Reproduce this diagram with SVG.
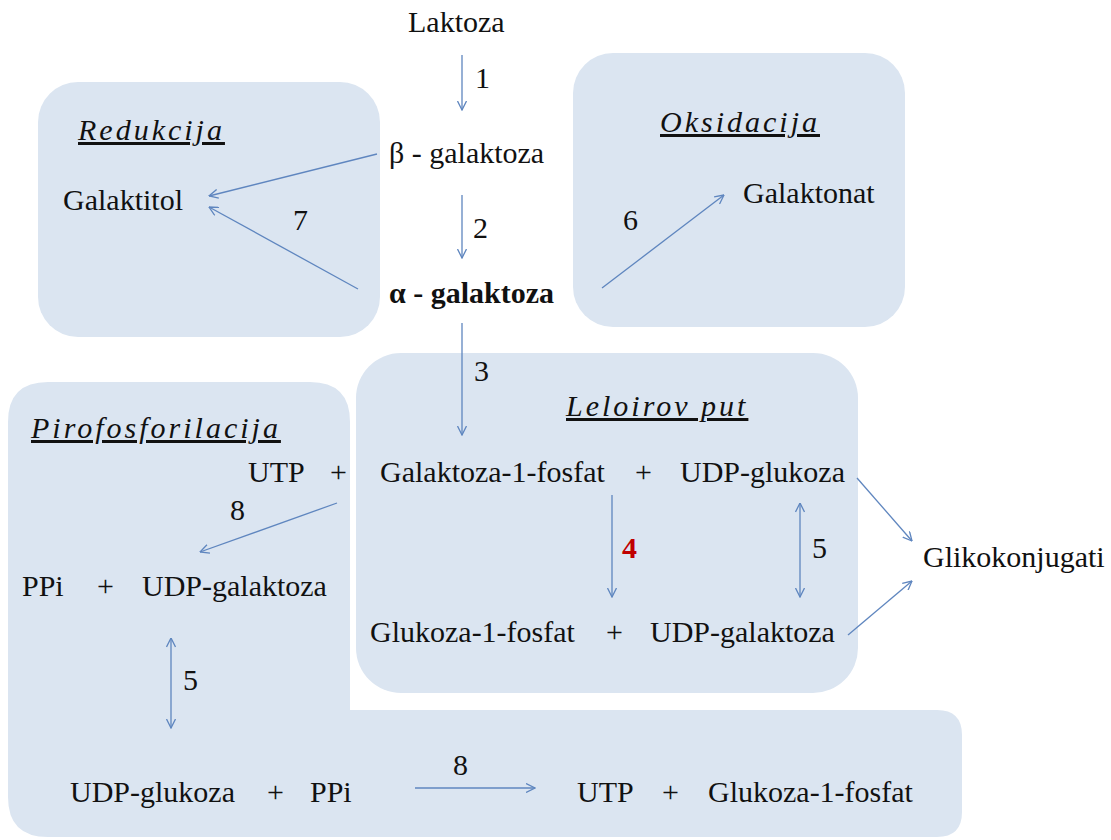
<svg xmlns="http://www.w3.org/2000/svg" width="1111" height="840" viewBox="0 0 1111 840">
<defs>
<marker id="ah" viewBox="0 0 10 10" refX="9.5" refY="5" markerWidth="10" markerHeight="10" markerUnits="userSpaceOnUse" orient="auto-start-reverse">
<path d="M0.5,0.5 L9.5,5 L0.5,9.5" fill="none" stroke="#5f86bf" stroke-width="1.3"/>
</marker>
<style>
.box{fill:#dbe5f1;stroke:none}
text{font-family:'Liberation Serif','Times New Roman',Times,'DejaVu Serif',serif;font-size:30px;fill:#111}
.h{font-style:italic;letter-spacing:3px;text-decoration:underline}
.b{font-weight:bold}
.red{fill:#c00000;font-weight:bold}
.c{fill:none;stroke:#5f86bf;stroke-width:1.3}
.one{marker-end:url(#ah)}
.two{marker-start:url(#ah);marker-end:url(#ah)}
</style>
</defs>
<g font-family="Liberation Serif, Times New Roman, serif">
<g id="reduction">
<rect class="box" x="38" y="82" width="342" height="255" rx="40"/>
<text class="h" x="78" y="140">Redukcija</text>
<text x="63" y="210">Galaktitol</text>
</g>
<g id="oxidation">
<rect class="box" x="573" y="53" width="332" height="274" rx="40"/>
<text class="h" x="660" y="132">Oksidacija</text>
<text x="743" y="203">Galaktonat</text>
</g>
<g id="pyrophosphorylation">
<path class="box" d="M48,382 H310 Q350,382 350,422 V710 H937 Q962,710 962,735 V812 Q962,837 937,837 H48 Q8,837 8,797 V422 Q8,382 48,382 Z"/>
<text class="h" x="31" y="438">Pirofosforilacija</text>
<text x="248" y="482">UTP</text>
<text x="330" y="482">+</text>
<text x="22" y="596">PPi</text>
<text x="97" y="596">+</text>
<text x="142" y="596">UDP-galaktoza</text>
<text x="70" y="802">UDP-glukoza</text>
<text x="267" y="802">+</text>
<text x="310" y="802">PPi</text>
<text x="577" y="802">UTP</text>
<text x="662" y="802">+</text>
<text x="708" y="802">Glukoza-1-fosfat</text>
</g>
<g id="leloir">
<rect class="box" x="356" y="353" width="502" height="340" rx="45"/>
<text class="h" x="566" y="416" letter-spacing="4">Leloirov put</text>
<text x="380" y="482">Galaktoza-1-fosfat</text>
<text x="635" y="482">+</text>
<text x="680" y="482">UDP-glukoza</text>
<text x="370" y="642">Glukoza-1-fosfat</text>
<text x="606" y="642">+</text>
<text x="650" y="642">UDP-galaktoza</text>
</g>
<g id="laktoza"><text x="408" y="32">Laktoza</text></g>
<g id="beta-galaktoza"><text x="389" y="163">β - galaktoza</text></g>
<g id="alfa-galaktoza"><text class="b" x="389" y="303">α - galaktoza</text></g>
<g id="glikokonjugati"><text x="923" y="567">Glikokonjugati</text></g>
<g id="connectors">
<line class="c one" x1="462" y1="55" x2="462" y2="110"/>
<line class="c one" x1="462" y1="195" x2="462" y2="258"/>
<line class="c one" x1="462" y1="323" x2="462" y2="435"/>
<line class="c one" x1="377" y1="154" x2="209" y2="196"/>
<line class="c one" x1="358" y1="289" x2="209" y2="207"/>
<line class="c one" x1="602" y1="288" x2="724" y2="195"/>
<line class="c one" x1="337" y1="503" x2="200" y2="552"/>
<line class="c one" x1="612" y1="495" x2="612" y2="597"/>
<line class="c two" x1="800" y1="503" x2="800" y2="597"/>
<line class="c two" x1="171" y1="638" x2="171" y2="728"/>
<line class="c one" x1="857" y1="478" x2="912" y2="541"/>
<line class="c one" x1="848" y1="635" x2="912" y2="581"/>
<line class="c one" x1="415" y1="788" x2="535" y2="788"/>
<text x="475" y="88">1</text>
<text x="473" y="238">2</text>
<text x="474" y="381">3</text>
<text x="293" y="230">7</text>
<text x="623" y="230">6</text>
<text x="230" y="520">8</text>
<text class="red" x="622" y="558">4</text>
<text x="812" y="558">5</text>
<text x="183" y="690">5</text>
<text x="453" y="775">8</text>
</g>
</g>
</svg>
